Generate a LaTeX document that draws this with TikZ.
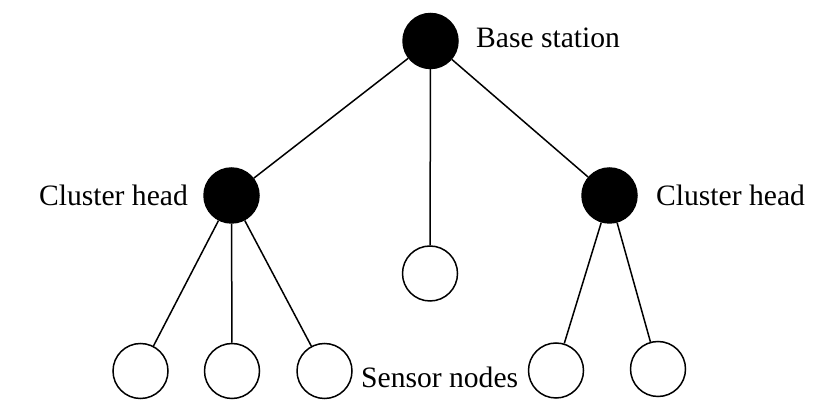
\documentclass[tikz,border=0pt]{standalone}
\usepackage{fontspec}
\setmainfont{Liberation Serif}
\usepackage{tikz}
\usetikzlibrary{positioning}

\tikzset{
  head/.style={circle, draw=black, fill=black, line width=0.75pt, inner sep=0pt, minimum size=27.5pt},
  sensor/.style={circle, draw=black, fill=white, line width=0.75pt, inner sep=0pt, minimum size=27.5pt},
  tag/.style={inner sep=0pt, font=\fontsize{14.8}{18}\selectfont},
  link/.style={line width=0.75pt}
}

\begin{document}
\begin{tikzpicture}[x=0.5pt, y=-0.5pt]
                    \useasboundingbox (0,0) rectangle (817,415);
                    \node[head] (bs) at (430.5,41) {};
                    \node[head] (ch1) at (231.5,195.5) {};
                    \node[head] (ch2) at (609.5,195.5) {};
                    \node[sensor] (s0) at (430,273.5) {};
                    \node[sensor] (s1) at (140.5,371) {};
                    \node[sensor] (s2) at (232,371) {};
                    \node[sensor] (s3) at (324.5,371) {};
                    \node[sensor] (s4) at (556,370.5) {};
                    \node[sensor] (s5) at (658,369) {};
                    \node[tag, right=8.5pt of bs, yshift=1.5pt] (bslabel) {Base station};
                    \node[tag, left=7.5pt of ch1] (ch1label) {Cluster head};
                    \node[tag, right=9pt of ch2] (ch2label) {Cluster head};
                    \node[tag, right=4pt of s3, yshift=-3pt] (slabel) {Sensor nodes};
                    \draw[link] (bs) -- (ch1);
                    \draw[link] (bs) -- (ch2);
                    \draw[link] (bs) -- (s0);
                    \foreach \s in {s1,s2,s3}
                        \draw[link] (ch1) -- (\s);
                    \foreach \s in {s4,s5}
                        \draw[link] (ch2) -- (\s);
                \end{tikzpicture}
\end{document}
